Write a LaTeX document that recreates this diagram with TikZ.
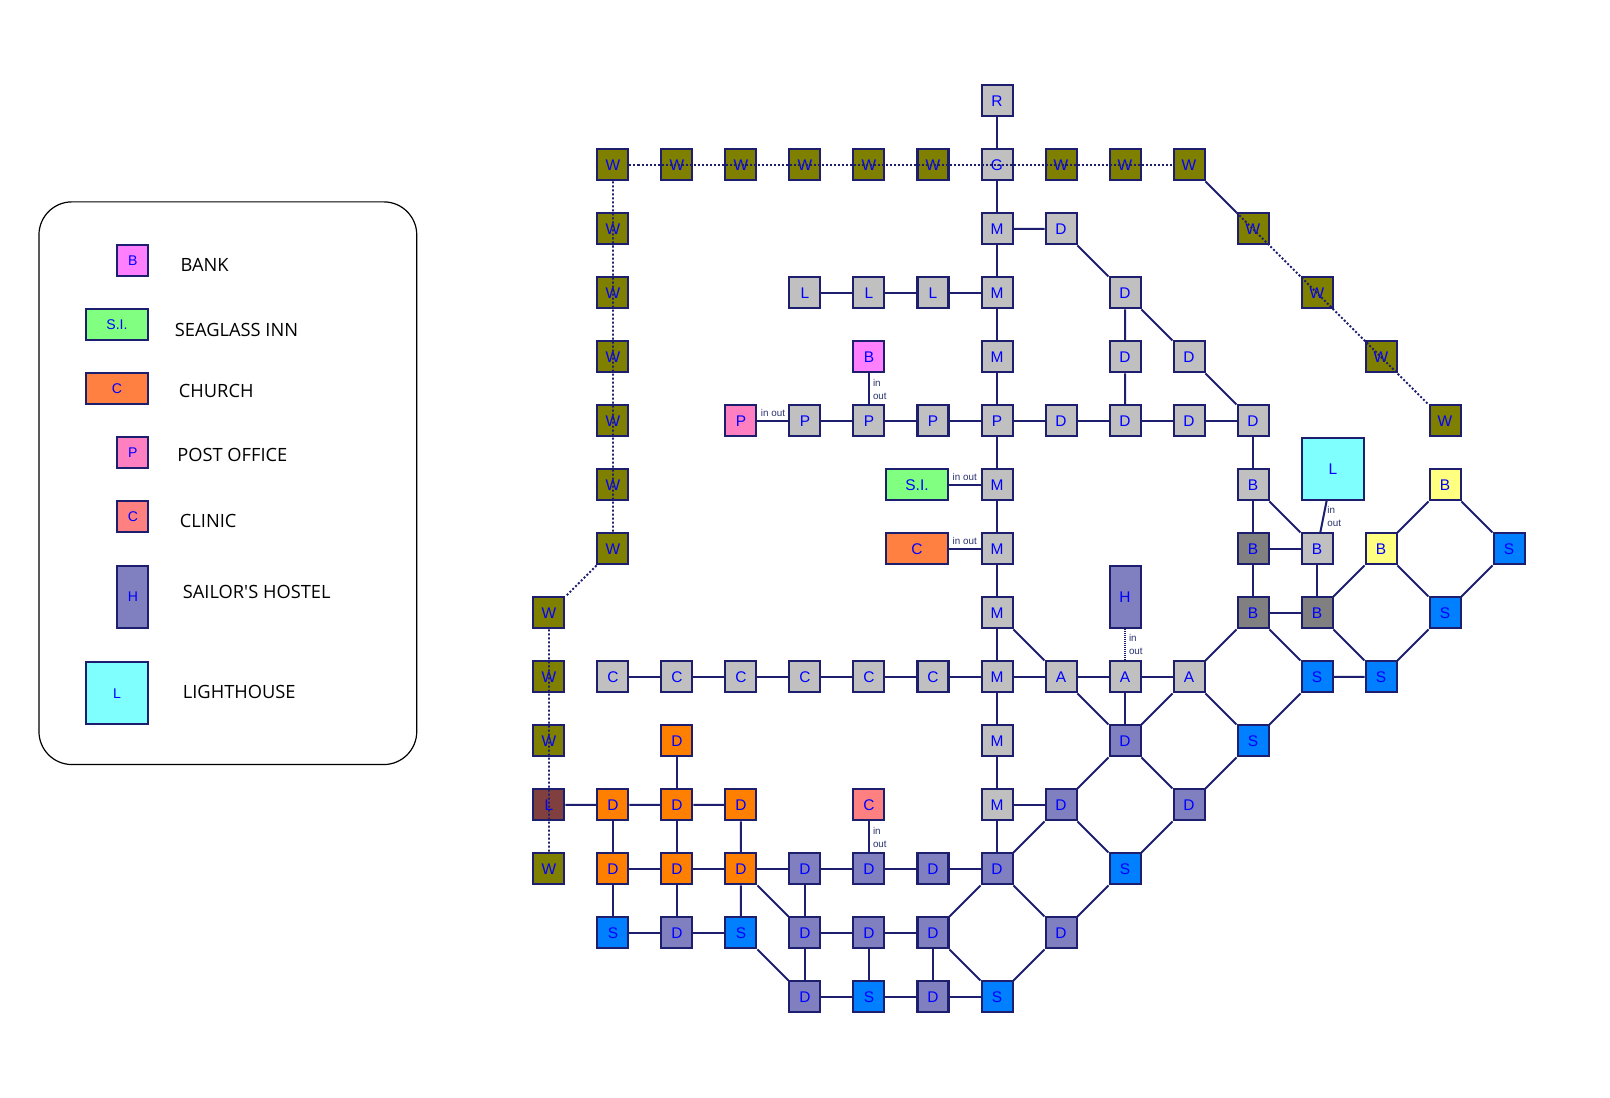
\documentclass[tikz,border=0pt]{standalone}
\usepackage{fontspec}
\setmainfont{Liberation Sans}
\newfontfamily\legendfont{Open Sans}
\usepackage{xcolor}
\usepackage{tikz}
\usetikzlibrary{positioning,calc}

\definecolor{edgeblue}{RGB}{30,30,110}
\definecolor{wallolive}{RGB}{128,128,0}
\definecolor{roadgray}{RGB}{192,192,192}
\definecolor{yardgray}{RGB}{128,128,128}
\definecolor{dockviolet}{RGB}{128,128,192}
\definecolor{worksorange}{RGB}{255,128,0}
\definecolor{churchorange}{RGB}{255,128,64}
\definecolor{seablue}{RGB}{0,128,255}
\definecolor{bankpink}{RGB}{255,128,255}
\definecolor{postpink}{RGB}{255,128,192}
\definecolor{clinicred}{RGB}{255,128,128}
\definecolor{inngreen}{RGB}{128,255,128}
\definecolor{lightcyan}{RGB}{128,255,255}
\definecolor{sandyellow}{RGB}{255,255,128}
\definecolor{brickbrown}{RGB}{128,64,64}
\definecolor{iotext}{RGB}{40,50,110}

\newcommand{\tilefont}{\fontsize{4.4}{5}\selectfont}
\newcommand{\keytilefont}{\fontsize{4}{4.5}\selectfont}
\newcommand{\keyfont}{\legendfont\fontsize{5.2}{6}\selectfont}
\newcommand{\iofont}{\fontsize{2.8}{3.7}\selectfont}

\tikzset{
    tile/.style={draw=edgeblue, line width=0.02cm, minimum size=0.31cm, inner sep=0pt, text=blue, font=\tilefont},
    wallbox/.style={tile, fill=wallolive},
    roadbox/.style={tile, fill=roadgray},
    yardbox/.style={tile, fill=yardgray},
    dockbox/.style={tile, fill=dockviolet},
    worksbox/.style={tile, fill=worksorange},
    seabox/.style={tile, fill=seablue},
    sandbox/.style={tile, fill=sandyellow},
    brickbox/.style={tile, fill=brickbrown},
    bankbox/.style={tile, fill=bankpink},
    postbox/.style={tile, fill=postpink},
    clinicbox/.style={tile, fill=clinicred},
    innbox/.style={tile, fill=inngreen, minimum width=0.62cm},
    churchbox/.style={tile, fill=churchorange, minimum width=0.62cm},
    hostelbox/.style={tile, fill=dockviolet, minimum height=0.62cm},
    lighthousebox/.style={tile, fill=lightcyan, minimum size=0.62cm},
    keytile/.style={font=\keytilefont},
    keytext/.style={font=\keyfont, inner sep=0pt, text=black, anchor=west},
    link/.style={draw=edgeblue, line width=0.02cm},
    wallpath/.style={draw=edgeblue, line width=0.018cm, dash pattern=on 0.02cm off 0.02cm},
    doorpath/.style={draw=edgeblue, line width=0.02cm, dash pattern=on 0.012cm off 0.008cm},
    io/.style={font=\iofont, text=iotext, inner sep=0.03cm, align=left}
}

\begin{document}
\begin{tikzpicture}[x=0.64cm, y=-0.64cm]
    \useasboundingbox (-8.578125,-1.578125) rectangle (16.578125,15.578125);

    % Legend
    \begin{scope}[shift={(-8.578125,-1.578125)}, x=0.01cm, y=-0.01cm]
        \draw[black, line width=0.012cm, rounded corners=0.33cm] (39,202) rectangle (417,765);
        \node[bankbox, keytile] (bankkey) at (133,260.6) {B};
        \node[keytext] at (180,264.7) {BANK};
        \node[innbox, keytile] (innkey) at (117,324.6) {S.I.};
        \node[keytext] at (174.3,330.1) {SEAGLASS INN};
        \node[churchbox, keytile] (churchkey) at (117,388.8) {C};
        \node[keytext] at (178.3,391.3) {CHURCH};
        \node[postbox, keytile] (postkey) at (133,453) {P};
        \node[keytext] at (176.7,455.1) {POST OFFICE};
        \node[clinicbox, keytile] (clinickey) at (133,517.2) {C};
        \node[keytext] at (179.3,521.6) {CLINIC};
        \node[hostelbox, keytile] (hostelkey) at (133,597.3) {H};
        \node[keytext] at (182.3,591.9) {SAILOR'S HOSTEL};
        \node[lighthousebox, keytile] (lightkey) at (117,693.6) {L};
        \node[keytext] at (182.3,692.3) {LIGHTHOUSE};
    \end{scope}

    % Town wall
    \node[wallbox] (w1-1) at (1,1) {W};
    \node[wallbox] (w2-1) at (2,1) {W};
    \node[wallbox] (w3-1) at (3,1) {W};
    \node[wallbox] (w4-1) at (4,1) {W};
    \node[wallbox] (w5-1) at (5,1) {W};
    \node[wallbox] (w6-1) at (6,1) {W};
    \node[wallbox] (w8-1) at (8,1) {W};
    \node[wallbox] (w9-1) at (9,1) {W};
    \node[wallbox] (w10-1) at (10,1) {W};
    \node[wallbox] (w11-2) at (11,2) {W};
    \node[wallbox] (w12-3) at (12,3) {W};
    \node[wallbox] (w13-4) at (13,4) {W};
    \node[wallbox] (w14-5) at (14,5) {W};
    \node[wallbox] (w1-2) at (1,2) {W};
    \node[wallbox] (w1-3) at (1,3) {W};
    \node[wallbox] (w1-4) at (1,4) {W};
    \node[wallbox] (w1-5) at (1,5) {W};
    \node[wallbox] (w1-6) at (1,6) {W};
    \node[wallbox] (w1-7) at (1,7) {W};
    \node[wallbox] (w0-8) at (0,8) {W};
    \node[wallbox] (w0-9) at (0,9) {W};
    \node[wallbox] (w0-10) at (0,10) {W};
    \node[brickbox] (l0-11) at (0,11) {L};
    \node[wallbox] (w0-12) at (0,12) {W};

    % Main street and gate
    \node[roadbox] (r7-0) at (7,0) {R};
    \node[roadbox] (g7-1) at (7,1) {G};
    \node[roadbox] (m7-2) at (7,2) {M};
    \node[roadbox] (m7-3) at (7,3) {M};
    \node[roadbox] (m7-4) at (7,4) {M};
    \node[roadbox] (p7-5) at (7,5) {P};
    \node[roadbox] (m7-6) at (7,6) {M};
    \node[roadbox] (m7-7) at (7,7) {M};
    \node[roadbox] (m7-8) at (7,8) {M};
    \node[roadbox] (m7-9) at (7,9) {M};
    \node[roadbox] (m7-10) at (7,10) {M};
    \node[roadbox] (m7-11) at (7,11) {M};

    % Side streets
    \node[roadbox] (l4-3) at (4,3) {L};
    \node[roadbox] (l5-3) at (5,3) {L};
    \node[roadbox] (l6-3) at (6,3) {L};
    \node[bankbox] (bank) at (5,4) {B};
    \node[postbox] (post) at (3,5) {P};
    \node[roadbox] (p4-5) at (4,5) {P};
    \node[roadbox] (p5-5) at (5,5) {P};
    \node[roadbox] (p6-5) at (6,5) {P};
    \node[innbox] (inn) at (5.75,6) {S.I.};
    \node[churchbox] (church) at (5.75,7) {C};
    \node[roadbox] (c1-9) at (1,9) {C};
    \node[roadbox] (c2-9) at (2,9) {C};
    \node[roadbox] (c3-9) at (3,9) {C};
    \node[roadbox] (c4-9) at (4,9) {C};
    \node[roadbox] (c5-9) at (5,9) {C};
    \node[roadbox] (c6-9) at (6,9) {C};
    \node[roadbox] (d8-2) at (8,2) {D};
    \node[roadbox] (d9-3) at (9,3) {D};
    \node[roadbox] (d9-4) at (9,4) {D};
    \node[roadbox] (d10-4) at (10,4) {D};
    \node[roadbox] (d8-5) at (8,5) {D};
    \node[roadbox] (d9-5) at (9,5) {D};
    \node[roadbox] (d10-5) at (10,5) {D};
    \node[roadbox] (d11-5) at (11,5) {D};
    \node[roadbox] (a8-9) at (8,9) {A};
    \node[roadbox] (a9-9) at (9,9) {A};
    \node[roadbox] (a10-9) at (10,9) {A};
    \node[hostelbox] (hostel) at (9,7.75) {H};

    % Beacon hill
    \node[roadbox] (b11-6) at (11,6) {B};
    \node[lighthousebox] (lighthouse) at (12.25,5.75) {L};
    \node[yardbox] (b11-7) at (11,7) {B};
    \node[roadbox] (b12-7) at (12,7) {B};
    \node[yardbox] (b11-8) at (11,8) {B};
    \node[yardbox] (b12-8) at (12,8) {B};
    \node[sandbox] (b13-7) at (13,7) {B};
    \node[sandbox] (b14-6) at (14,6) {B};
    \node[seabox] (s15-7) at (15,7) {S};
    \node[seabox] (s14-8) at (14,8) {S};
    \node[seabox] (s12-9) at (12,9) {S};
    \node[seabox] (s13-9) at (13,9) {S};
    \node[seabox] (s11-10) at (11,10) {S};

    % Docks
    \node[dockbox] (d9-10) at (9,10) {D};
    \node[dockbox] (d8-11) at (8,11) {D};
    \node[dockbox] (d10-11) at (10,11) {D};
    \node[seabox] (s9-12) at (9,12) {S};
    \node[dockbox] (d8-13) at (8,13) {D};
    \node[clinicbox] (clinic) at (5,11) {C};
    \node[dockbox] (d4-12) at (4,12) {D};
    \node[dockbox] (d5-12) at (5,12) {D};
    \node[dockbox] (d6-12) at (6,12) {D};
    \node[dockbox] (d7-12) at (7,12) {D};
    \node[dockbox] (d4-13) at (4,13) {D};
    \node[dockbox] (d5-13) at (5,13) {D};
    \node[dockbox] (d6-13) at (6,13) {D};
    \node[dockbox] (d4-14) at (4,14) {D};
    \node[seabox] (s5-14) at (5,14) {S};
    \node[dockbox] (d6-14) at (6,14) {D};
    \node[seabox] (s7-14) at (7,14) {S};

    % Dry docks
    \node[worksbox] (d2-10) at (2,10) {D};
    \node[worksbox] (d1-11) at (1,11) {D};
    \node[worksbox] (d2-11) at (2,11) {D};
    \node[worksbox] (d3-11) at (3,11) {D};
    \node[worksbox] (d1-12) at (1,12) {D};
    \node[worksbox] (d2-12) at (2,12) {D};
    \node[worksbox] (d3-12) at (3,12) {D};
    \node[seabox] (s1-13) at (1,13) {S};
    \node[dockbox] (d2-13) at (2,13) {D};
    \node[seabox] (s3-13) at (3,13) {S};

    % Streets
    \draw[link] (r7-0) -- (g7-1) -- (m7-2) -- (m7-3) -- (m7-4) -- (p7-5) -- (m7-6) -- (m7-7) -- (m7-8) -- (m7-9) -- (m7-10) -- (m7-11) -- (d7-12);
    \draw[link] (m7-2) -- (d8-2) -- (d9-3) -- (d9-4) -- (d9-5);
    \draw[link] (d9-3) -- (d10-4) -- (d11-5);
    \draw[link] (l4-3) -- (l5-3) -- (l6-3) -- (m7-3);
    \draw[link] (post) -- node[io, above] {in out} (p4-5);
    \draw[link] (p4-5) -- (p5-5) -- (p6-5) -- (p7-5) -- (d8-5) -- (d9-5) -- (d10-5) -- (d11-5);
    \draw[link] (bank) -- node[io, right] {in\\out} (p5-5);
    \draw[link] (inn) -- node[io, above] {in out} (m7-6);
    \draw[link] (church) -- node[io, above] {in out} (m7-7);
    \draw[link] (c1-9) -- (c2-9) -- (c3-9) -- (c4-9) -- (c5-9) -- (c6-9) -- (m7-9) -- (a8-9) -- (a9-9) -- (a10-9);
    \draw[link] (m7-8) -- (a8-9) -- (d9-10) -- (a10-9);
    \draw[link] (a9-9) -- (d9-10);
    \draw[doorpath] (hostel) -- node[io, right] {in\\out} (a9-9);
    \draw[link] (m7-11) -- (d8-11);
    \draw[link] (w10-1) -- (w11-2);

    % Beacon hill links
    \draw[link] (d11-5) -- (b11-6) -- (b11-7) -- (b11-8) -- (b12-8) -- (b12-7) -- (b11-7);
    \draw[link] (b11-6) -- (b12-7);
    \draw[link] (lighthouse) -- node[io, right] {in\\out} (b12-7);
    \draw[link] (a10-9) -- (b11-8) -- (s12-9) -- (s11-10) -- (a10-9);
    \draw[link] (s12-9) -- (s13-9) -- (b12-8) -- (b13-7) -- (b14-6) -- (s15-7) -- (s14-8) -- (s13-9);
    \draw[link] (b13-7) -- (s14-8);

    % Dock links
    \draw[link] (s11-10) -- (d10-11) -- (d9-10) -- (d8-11) -- (d7-12) -- (d8-13) -- (s9-12) -- (d10-11);
    \draw[link] (d8-11) -- (s9-12);
    \draw[link] (d8-13) -- (s7-14) -- (d6-13) -- (d7-12);
    \draw[link] (d4-12) -- (d5-12) -- (d6-12) -- (d7-12);
    \draw[link] (clinic) -- node[io, right] {in\\out} (d5-12);
    \draw[link] (d4-12) -- (d4-13) -- (d4-14) -- (s5-14) -- (d6-14) -- (s7-14);
    \draw[link] (d5-13) -- (s5-14);
    \draw[link] (d6-13) -- (d6-14);
    \draw[doorpath] (d4-13) -- (d5-13) -- (d6-13);

    % Dry dock links
    \draw[link] (d2-10) -- (d2-11) -- (d2-12) -- (d2-13);
    \draw[link] (l0-11) -- (d1-11) -- (d2-11) -- (d3-11) -- (d3-12) -- (s3-13) -- (d4-14);
    \draw[link] (d1-11) -- (d1-12) -- (s1-13) -- (d2-13) -- (s3-13);
    \draw[link] (d1-12) -- (d2-12) -- (d3-12) -- (d4-12);
    \draw[link] (d3-12) -- (d4-13);

    % Wall walk
    \draw[wallpath] (w1-1) -- (w10-1);
    \draw[wallpath] (w1-1) -- (w1-7) -- (w0-8) -- (w0-12);
    \draw[wallpath] (w11-2.north west) -- (w14-5.north west);
\end{tikzpicture}
\end{document}
